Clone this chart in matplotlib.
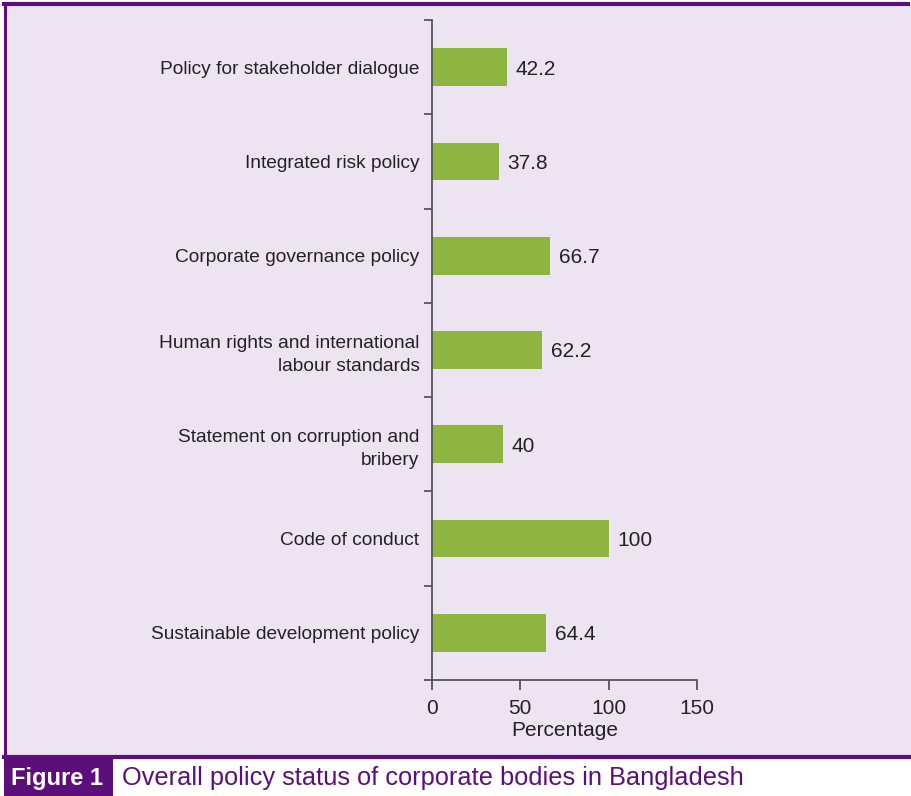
import matplotlib.pyplot as plt
from matplotlib.patches import Rectangle
from matplotlib.lines import Line2D
import numpy as np

plt.rcParams['font.family'] = ['Liberation Sans', 'DejaVu Sans']

categories = ['Sustainable development policy', 'Code of conduct',
              'Statement on corruption and\nbribery',
              'Human rights and international\nlabour standards',
              'Corporate governance policy', 'Integrated risk policy',
              'Policy for stakeholder dialogue']
values = [64.4, 100, 40, 62.2, 66.7, 37.8, 42.2]
value_labels = ['64.4', '100', '40', '62.2', '66.7', '37.8', '42.2']
xticks = [0, 50, 100, 150]

purple = '#5c0f7a'
lavender = '#ede4f1'
green = '#8db53f'
axcol = '#555555'
txt = '#222222'

fig = plt.figure(figsize=(9.11, 7.96), dpi=100)
fig.patch.set_facecolor('white')

# background panel, purple frame on top / left / bottom
fig.patches.append(Rectangle((4/911, 1-757/796), 907/911, 753/796, transform=fig.transFigure,
                             facecolor=lavender, edgecolor='none', zorder=-3))
for xs, ys, lw in [([4, 908], [4, 4], 3), ([5, 5], [4, 757], 2.2), ([4, 911], [757, 757], 3)]:
    fig.lines.append(Line2D([x/911 for x in xs], [1 - v/796 for v in ys], transform=fig.transFigure,
                            color=purple, lw=lw, zorder=-2))
# caption box
fig.patches.append(Rectangle((4/911, 0), 109/911, 38/796, transform=fig.transFigure,
                             facecolor=purple, edgecolor='none', zorder=-2))
fig.text(11/911, 18/796, 'Figure 1', color='white', fontsize=17, fontweight='bold', va='center', ha='left')
fig.text(122/911, 18/796, 'Overall policy status of corporate bodies in Bangladesh', color=purple,
         fontsize=18.3, va='center', ha='left')

ax = fig.add_axes([432/911, 1-680/796, 265/911, 660/796])
ax.set_zorder(2)
ax.patch.set_alpha(0)
y = np.arange(len(categories))
ax.barh(y, values, height=0.4, color=green)
for yi, v, s in zip(y, values, value_labels):
    ax.text(v + 5, yi - 0.02, s, va='center', ha='left', fontsize=15, color=txt)

ax.set_xlim(0, 150)
ax.set_ylim(-0.5, len(categories) - 0.5)
ax.set_xticks(xticks)
ax.set_xticklabels([str(t) for t in xticks], fontsize=15, color=txt)
ax.set_yticks(np.arange(len(categories) + 1) - 0.5)
ax.set_yticklabels([])
ax.set_yticks(y, minor=True)
ax.set_yticklabels(categories, minor=True, fontsize=13.8, color=txt, ha='right', linespacing=1.45)
ax.tick_params(axis='y', which='major', length=6, width=1.3, color=axcol, direction='out')
ax.tick_params(axis='y', which='minor', length=0, pad=9)
ax.tick_params(axis='x', length=7, width=1.3, color=axcol, direction='out', pad=7)
ax.set_xlabel('Percentage', fontsize=15, color=txt, labelpad=2)
for s in ['top', 'right']:
    ax.spines[s].set_visible(False)
for s in ['left', 'bottom']:
    ax.spines[s].set_color(axcol)
    ax.spines[s].set_linewidth(1.3)

fig.savefig('out.png', dpi=100)
